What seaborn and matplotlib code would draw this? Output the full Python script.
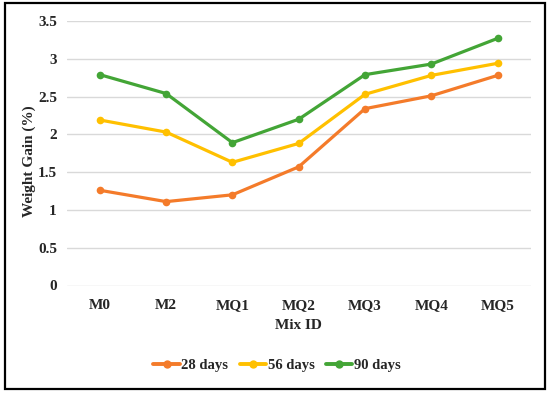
import matplotlib
matplotlib.use("Agg")
import matplotlib.pyplot as plt
import seaborn as sns
import pandas as pd
from matplotlib.patches import Rectangle

mixes = ["M0", "M2", "MQ1", "MQ2", "MQ3", "MQ4", "MQ5"]
days_28 = [1.26, 1.11, 1.20, 1.57, 2.34, 2.51, 2.78]
days_56 = [2.19, 2.03, 1.63, 1.88, 2.53, 2.78, 2.94]
days_90 = [2.79, 2.54, 1.89, 2.20, 2.79, 2.93, 3.27]
series_names = ["28 days", "56 days", "90 days"]
colors = ["#F47B2A", "#FFC000", "#43A536"]
y_ticks = [0, 0.5, 1, 1.5, 2, 2.5, 3, 3.5]
y_tick_labels = ["0", "0.5", "1", "1.5", "2", "2.5", "3", "3.5"]

rows = []
for name, vals in zip(series_names, [days_28, days_56, days_90]):
    for i, (m, v) in enumerate(zip(mixes, vals)):
        rows.append({"idx": i, "Mix ID": m, "value": v, "series": name})
df = pd.DataFrame(rows)

sns.set_theme(style="white")
plt.rcParams["font.family"] = ["Liberation Serif", "DejaVu Serif"]
plt.rcParams["font.weight"] = "bold"

fig = plt.figure(figsize=(5.5, 3.94), dpi=100)
ax = fig.add_axes([66.7 / 550, 1 - 285.5 / 394, (530.7 - 66.7) / 550, (285.5 - 21) / 394])

sns.lineplot(data=df, x="idx", y="value", hue="series", hue_order=series_names,
             palette=colors, marker="o", markersize=5.5, markeredgewidth=0,
             linewidth=2.3, ax=ax, legend=True)

ax.set_xlim(-0.5, 6.5)
ax.set_ylim(0, 3.5)
ax.set_xticks(range(len(mixes)))
ax.set_xticklabels(mixes, fontsize=11, fontweight="bold")
ax.set_yticks(y_ticks)
ax.set_yticklabels(y_tick_labels, fontsize=11, fontweight="bold")
ax.tick_params(axis="x", length=0, pad=10)
ax.tick_params(axis="y", length=0, pad=7)
ax.yaxis.grid(True, color="#d9d9d9", linewidth=1.0)
ax.set_axisbelow(True)
for s in ax.spines.values():
    s.set_visible(False)
ax.set_xlabel("Mix ID", fontsize=11, fontweight="bold", labelpad=5)
ax.set_ylabel("Weight Gain (%)", fontsize=11, fontweight="bold")
ax.yaxis.set_label_coords((36 - 66.7) / 464, (285.5 - 161) / 264.5)

handles, labels = ax.get_legend_handles_labels()
for h in handles:
    h.set_linewidth(2.8)
    h.set_markersize(6)
ax.legend(handles, labels, loc="center", bbox_to_anchor=(277 / 550, 1 - 365.7 / 394),
          bbox_transform=fig.transFigure, ncol=3, frameon=False,
          prop={"family": "Liberation Serif", "weight": "bold", "size": 10.5},
          handlelength=1.8, handletextpad=0.1, columnspacing=0.8)

fig.patches.append(Rectangle((5 / 550, 1 - 389 / 394), 540 / 550, 386 / 394,
                             transform=fig.transFigure, fill=False,
                             edgecolor="black", linewidth=1.6))

fig.savefig("out.png", dpi=100)
